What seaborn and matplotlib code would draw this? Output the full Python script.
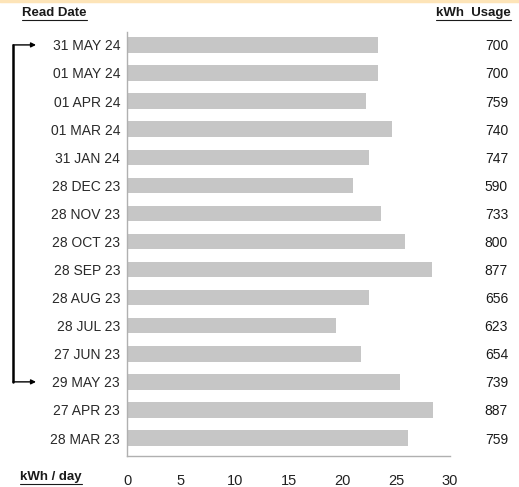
import matplotlib
matplotlib.use('Agg')
import matplotlib.pyplot as plt
import matplotlib.transforms as mtransforms
import seaborn as sns
import pandas as pd

# Chart data
read_dates = ['31 MAY 24', '01 MAY 24', '01 APR 24', '01 MAR 24', '31 JAN 24',
              '28 DEC 23', '28 NOV 23', '28 OCT 23', '28 SEP 23', '28 AUG 23',
              '28 JUL 23', '27 JUN 23', '29 MAY 23', '27 APR 23', '28 MAR 23']
kwh_per_day = [23.3, 23.3, 22.2, 24.6, 22.5,
               21.0, 23.6, 25.8, 28.3, 22.5,
               19.4, 21.7, 25.4, 28.4, 26.1]
kwh_usage = [700, 700, 759, 740, 747,
             590, 733, 800, 877, 656,
             623, 654, 739, 887, 759]
x_ticks = [0, 5, 10, 15, 20, 25, 30]

df = pd.DataFrame({'date': read_dates, 'kwh_day': kwh_per_day, 'usage': kwh_usage})

sns.set_style('white')
plt.rcParams['font.family'] = ['Liberation Sans', 'DejaVu Sans']

W, H = 519, 487
fig = plt.figure(figsize=(W / 100, H / 100), dpi=100)
ax = fig.add_axes([127 / W, 1 - 456 / H, (450 - 127) / W, (456 - 32) / H])

sns.barplot(data=df, y='date', x='kwh_day', orient='h', color='#c6c6c6',
            width=0.55, saturation=1, linewidth=0, ax=ax, order=read_dates)

ax.set_xlim(0, 30)
ax.set_ylim(len(read_dates) - 0.36, -0.46)
ax.set_xticks(x_ticks)
ax.set_xticklabels([str(t) for t in x_ticks])
ax.set_xlabel('')
ax.set_ylabel('')

for side in ['top', 'right']:
    ax.spines[side].set_visible(False)
for side in ['left', 'bottom']:
    ax.spines[side].set_color('#b0b0b0')
    ax.spines[side].set_linewidth(1.0)

ax.tick_params(axis='x', direction='in', length=4, color='#a0a0a0', width=0.8,
               labelsize=10.5, labelcolor='#222222', pad=13)
ax.tick_params(axis='y', length=0, labelsize=10, labelcolor='#2a2a2a', pad=5)

trans = mtransforms.blended_transform_factory(ax.transAxes, ax.transData)

# usage values on the right
for i, v in enumerate(kwh_usage):
    ax.text((508 - 127) / 323, i, str(v), transform=trans,
            ha='right', va='center_baseline', fontsize=10, color='#1a1a1a')

# bracket linking same period a year apart
xb = (13 - 127) / 323
xt = (36 - 127) / 323
ax.plot([xb, xb], [0, 12], transform=trans, color='black', lw=1.8, clip_on=False)
for row in [0, 12]:
    ax.annotate('', xy=(xt, row), xytext=(xb, row), xycoords=trans, textcoords=trans,
                arrowprops=dict(arrowstyle='-|>', color='black', lw=1.0,
                                mutation_scale=7, shrinkA=0, shrinkB=0))

# headers with underline
def header(x, y, s, ha):
    t = fig.text(x / W, 1 - y / H, s, ha=ha, va='center', fontsize=9.5,
                 color='#1a1a1a', fontweight='bold')
    fig.canvas.draw()
    bb = t.get_window_extent()
    fig.lines.append(plt.Line2D([bb.x0 / W, bb.x1 / W], [(bb.y0 - 1) / H, (bb.y0 - 1) / H],
                                transform=fig.transFigure, color='#1a1a1a', lw=0.8))

header(22, 13, 'Read Date', 'left')
header(511, 13, 'kWh  Usage', 'right')
header(20, 477, 'kWh / day', 'left')

# thin orange strip along the top
fig.lines.append(plt.Line2D([0, 1], [1 - 1 / H, 1 - 1 / H], transform=fig.transFigure,
                            color='#fde4b8', lw=2.5))

fig.savefig('out.png', dpi=100)
